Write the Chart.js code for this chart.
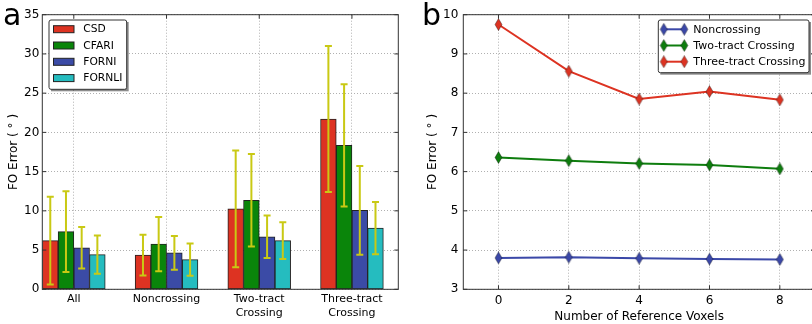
<!DOCTYPE html>
<html>
<head>
<meta charset="utf-8">
<script src="https://cdn.jsdelivr.net/npm/chart.js@4"></script>
<style>
  html, body { margin: 0; padding: 0; background: #fff; width: 812px; height: 324px; overflow: hidden; }
  .panel { position: absolute; top: 0; height: 324px; }
  #wrapA { left: 0; width: 406px; }
  #wrapB { left: 422px; width: 400px; }
  .tag { position: absolute; top: 0; font-family: "DejaVu Sans", sans-serif; font-size: 30px; line-height: 1; color: #000; }
</style>
</head>
<body>
<div id="wrapA" class="panel"><canvas id="chartA"></canvas></div>
<div id="wrapB" class="panel"><canvas id="chartB"></canvas></div>
<div class="tag" style="left:3px">a</div>
<div class="tag" style="left:422px">b</div>
<script>
// panel a: FO error per region, mean and std per method
const regions = [["All"], ["Noncrossing"], ["Two-tract", "Crossing"], ["Three-tract", "Crossing"]];
const methods = ["CSD", "CFARI", "FORNI", "FORNLI"];
const csdMean = [6.2, 4.35, 10.25, 21.7];
const csdStd = [5.6, 2.6, 7.45, 9.3];
const cfariMean = [7.35, 5.75, 11.35, 18.35];
const cfariStd = [5.15, 3.45, 5.9, 7.8];
const forniMean = [5.3, 4.65, 6.7, 10.05];
const forniStd = [2.65, 2.15, 2.7, 5.65];
const fornliMean = [4.42, 3.78, 6.2, 7.8];
const fornliStd = [2.44, 2.05, 2.35, 3.33];
const errorTicksA = [0, 5, 10, 15, 20, 25, 30, 35];

// panel b: FO error vs number of reference voxels
const refVoxels = [0, 2, 4, 6, 8];
const noncrossing = [3.80, 3.82, 3.79, 3.77, 3.76];
const twoTract = [6.36, 6.28, 6.21, 6.17, 6.07];
const threeTract = [9.75, 8.56, 7.85, 8.04, 7.83];
const lineLabels = ["Noncrossing", "Two-tract Crossing", "Three-tract Crossing"];

const FONT = '"DejaVu Sans", sans-serif';
const GRID = "#b0b0b0";
const FRAME = "#333";
const ERR = "#c9c914";
const barColors = ["#dd3322", "#0a850a", "#3b4ba6", "#25bcbf"];
const lineColors = ["#3b48a8", "#0e7d0e", "#dd3322"];

function diamond(fill) {
  const c = document.createElement("canvas");
  c.width = 9; c.height = 13;
  const g = c.getContext("2d");
  g.beginPath();
  g.moveTo(4.5, 0.5); g.lineTo(8, 6.5); g.lineTo(4.5, 12.5); g.lineTo(1, 6.5);
  g.closePath();
  g.fillStyle = fill; g.fill();
  g.strokeStyle = "rgba(0,0,0,0.45)"; g.lineWidth = 0.8; g.stroke();
  return c;
}
const markers = lineColors.map(diamond);

const framePlugin = {
  id: "frame",
  afterDraw(chart) {
    const { ctx, chartArea: a, scales } = chart;
    ctx.save();
    ctx.strokeStyle = FRAME;
    ctx.lineWidth = 1;
    ctx.strokeRect(a.left, a.top, a.right - a.left, a.bottom - a.top);
    ctx.beginPath();
    scales.x.ticks.forEach((t) => {
      const px = scales.x.getPixelForValue(t.value);
      ctx.moveTo(px, a.bottom); ctx.lineTo(px, a.bottom - 4);
      ctx.moveTo(px, a.top); ctx.lineTo(px, a.top + 4);
    });
    scales.y.ticks.forEach((t) => {
      const py = scales.y.getPixelForValue(t.value);
      ctx.moveTo(a.left, py); ctx.lineTo(a.left + 4, py);
      ctx.moveTo(a.right, py); ctx.lineTo(a.right - 4, py);
    });
    ctx.stroke();
    ctx.restore();
  },
};

const errorBarPlugin = {
  id: "errorBars",
  afterDatasetsDraw(chart) {
    const { ctx } = chart;
    const y = chart.scales.y;
    ctx.save();
    ctx.strokeStyle = ERR;
    ctx.lineWidth = 2;
    chart.data.datasets.forEach((ds, di) => {
      chart.getDatasetMeta(di).data.forEach((bar, i) => {
        const m = ds.data[i].y;
        const s = ds.errors[i];
        const top = y.getPixelForValue(m + s);
        const bot = y.getPixelForValue(m - s);
        ctx.beginPath();
        ctx.moveTo(bar.x, top); ctx.lineTo(bar.x, bot);
        ctx.moveTo(bar.x - 3.5, top); ctx.lineTo(bar.x + 3.5, top);
        ctx.moveTo(bar.x - 3.5, bot); ctx.lineTo(bar.x + 3.5, bot);
        ctx.stroke();
      });
    });
    ctx.restore();
  },
};

function legendFrame(ctx, x, y, w, h) {
  ctx.fillStyle = "rgba(0,0,0,0.45)";
  ctx.fillRect(x + 2, y + 2, w, h);
  ctx.fillStyle = "#fff";
  ctx.strokeStyle = FRAME;
  ctx.lineWidth = 1;
  ctx.beginPath();
  ctx.roundRect(x, y, w, h, 2);
  ctx.fill();
  ctx.stroke();
}

const legendA = {
  id: "legendA",
  afterDraw(chart) {
    const { ctx, chartArea: a } = chart;
    const x = a.left + 6.7, y = a.top + 5.3;
    ctx.save();
    legendFrame(ctx, x, y, 77.7, 69.3);
    ctx.font = "10.7px " + FONT;
    ctx.textBaseline = "middle";
    chart.data.datasets.forEach((ds, i) => {
      const ry = y + 9.2 + i * 16.3;
      ctx.fillStyle = ds.backgroundColor;
      ctx.fillRect(x + 4.5, ry - 3.5, 20.5, 7);
      ctx.strokeStyle = "#222";
      ctx.strokeRect(x + 4.5, ry - 3.5, 20.5, 7);
      ctx.fillStyle = "#000";
      ctx.fillText(ds.label, x + 34.3, ry + 0.5);
    });
    ctx.restore();
  },
};

const legendB = {
  id: "legendB",
  afterDraw(chart) {
    const { ctx, chartArea: a } = chart;
    const w = 150.7, h = 52.7;
    const x = 809 - 422 - w, y = a.top + 5.3;
    ctx.save();
    legendFrame(ctx, x, y, w, h);
    ctx.font = "11px " + FONT;
    ctx.textBaseline = "middle";
    chart.data.datasets.forEach((ds, i) => {
      const ry = y + 9.3 + i * 16.2;
      ctx.strokeStyle = ds.borderColor;
      ctx.lineWidth = 2;
      ctx.beginPath();
      ctx.moveTo(x + 5.5, ry); ctx.lineTo(x + 26, ry);
      ctx.stroke();
      const m = ds.pointStyle;
      ctx.drawImage(m, x + 5.5 - m.width / 2, ry - m.height / 2);
      ctx.drawImage(m, x + 26 - m.width / 2, ry - m.height / 2);
      ctx.fillStyle = "#000";
      ctx.fillText(ds.label, x + 35, ry + 0.5);
    });
    ctx.restore();
  },
};

const means = [csdMean, cfariMean, forniMean, fornliMean];
const stds = [csdStd, cfariStd, forniStd, fornliStd];

new Chart(document.getElementById("chartA"), {
  type: "bar",
  data: {
    datasets: methods.map((name, k) => ({
      label: name,
      data: means[k].map((v, i) => ({ x: i, y: v })),
      errors: stds[k],
      backgroundColor: barColors[k],
      borderColor: "#222",
      borderWidth: 1,
      borderSkipped: false,
      barThickness: 15.7,
    })),
  },
  options: {
    responsive: true,
    maintainAspectRatio: false,
    animation: false,
    events: [],
    layout: { padding: { left: 3, right: 7.7, top: 14.7, bottom: 0 } },
    plugins: { legend: { display: false }, tooltip: { enabled: false } },
    scales: {
      x: {
        type: "linear",
        min: -0.34,
        max: 3.5,
        offset: false,
        afterBuildTicks: (axis) => { axis.ticks = regions.map((_, i) => ({ value: i })); },
        afterFit: (axis) => { axis.height = 34.7; },
        grid: { color: GRID, drawTicks: false, offset: false },
        border: { display: false, dash: [1, 2] },
        ticks: {
          padding: 3,
          color: "#000",
          font: { family: FONT, size: 11, lineHeight: 1.25 },
          callback: (v) => regions[v],
        },
      },
      y: {
        min: 0,
        max: 35,
        afterBuildTicks: (axis) => { axis.ticks = errorTicksA.map((v) => ({ value: v })); },
        afterFit: (axis) => { axis.width = 39.3; },
        grid: { color: GRID, drawTicks: false },
        border: { display: false, dash: [1, 2] },
        ticks: { padding: 3, color: "#000", font: { family: FONT, size: 12 } },
        title: {
          display: true,
          text: "FO Error ( \u00b0 )",
          color: "#000",
          padding: { top: 4, bottom: 0 },
          font: { family: FONT, size: 12 },
        },
      },
    },
  },
  plugins: [errorBarPlugin, framePlugin, legendA],
});

const series = [noncrossing, twoTract, threeTract];

new Chart(document.getElementById("chartB"), {
  type: "line",
  data: {
    datasets: lineLabels.map((name, k) => ({
      label: name,
      data: series[k].map((v, i) => ({ x: refVoxels[i], y: v })),
      borderColor: lineColors[k],
      backgroundColor: lineColors[k],
      borderWidth: 2,
      pointStyle: markers[k],
      pointRadius: 5,
      tension: 0,
    })),
  },
  options: {
    responsive: true,
    maintainAspectRatio: false,
    animation: false,
    events: [],
    layout: { padding: { left: 0, right: 5, top: 14.7, bottom: 0 } },
    plugins: { legend: { display: false }, tooltip: { enabled: false } },
    scales: {
      x: {
        type: "linear",
        min: -1,
        max: 9,
        afterBuildTicks: (axis) => { axis.ticks = refVoxels.map((v) => ({ value: v })); },
        afterFit: (axis) => { axis.height = 34.7; },
        grid: { color: GRID, drawTicks: false },
        border: { display: false, dash: [1, 2] },
        ticks: { padding: 4, color: "#000", font: { family: FONT, size: 12 } },
        title: {
          display: true,
          text: "Number of Reference Voxels",
          color: "#000",
          padding: { top: 0, bottom: 0 },
          font: { family: FONT, size: 12 },
        },
      },
      y: {
        min: 3,
        max: 10,
        ticks: { stepSize: 1, padding: 5, color: "#000", font: { family: FONT, size: 12 } },
        afterFit: (axis) => { axis.width = 41.3; },
        grid: { color: GRID, drawTicks: false },
        border: { display: false, dash: [1, 2] },
        title: {
          display: true,
          text: "FO Error ( \u00b0 )",
          color: "#000",
          padding: { top: 4, bottom: 0 },
          font: { family: FONT, size: 12 },
        },
      },
    },
  },
  plugins: [framePlugin, legendB],
});
</script>
</body>
</html>
